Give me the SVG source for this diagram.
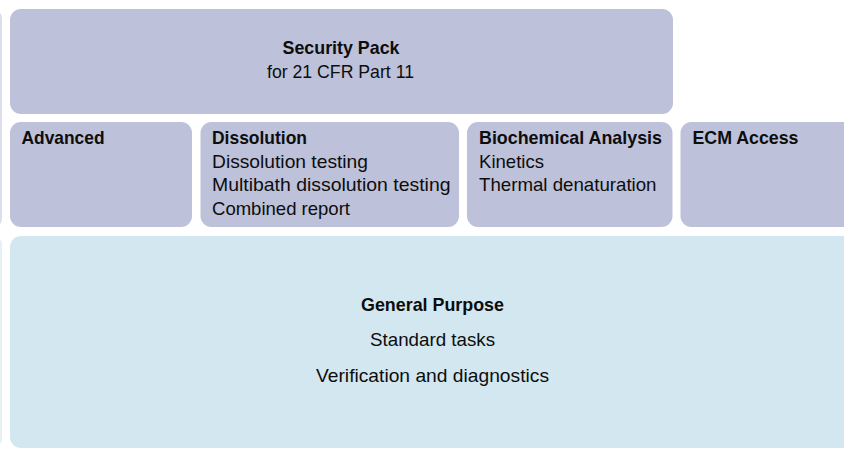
<svg xmlns="http://www.w3.org/2000/svg" width="844" height="449" viewBox="0 0 844 449">
<style>
.p{fill:#bdc1d9}
.b{fill:#d3e7f0}
text{font-family:"Liberation Sans Narrow","Liberation Sans",Arial,sans-serif;font-size:18.5px;fill:#0d0d0d}
.h{font-weight:bold}
.c{text-anchor:middle}
</style>
<rect width="844" height="449" fill="#fff"/>
<g id="edge-left">
<rect x="-20" y="10" width="22" height="217" rx="8" fill="#dcdeeb"/>
<rect x="-20" y="236" width="22" height="211" rx="8" fill="#e5f0f5"/>
</g>
<g id="security">
<rect class="p" x="10" y="9" width="663" height="105" rx="11"/>
<text class="h c" x="341" y="54" textLength="117" lengthAdjust="spacingAndGlyphs">Security Pack</text>
<text class="c" x="340.5" y="77.5" textLength="147" lengthAdjust="spacingAndGlyphs">for 21 CFR Part 11</text>
</g>
<g id="advanced">
<rect class="p" x="10" y="122" width="182" height="105" rx="11"/>
<text class="h" x="21.5" y="144" textLength="83" lengthAdjust="spacingAndGlyphs">Advanced</text>
</g>
<g id="dissolution">
<rect class="p" x="200.5" y="122" width="258.5" height="105" rx="11"/>
<text class="h" x="212" y="144" textLength="95" lengthAdjust="spacingAndGlyphs">Dissolution</text>
<text x="212" y="167.5" textLength="156" lengthAdjust="spacingAndGlyphs">Dissolution testing</text>
<text x="212" y="191" textLength="238.5" lengthAdjust="spacingAndGlyphs">Multibath dissolution testing</text>
<text x="212" y="214.5" textLength="138" lengthAdjust="spacingAndGlyphs">Combined report</text>
</g>
<g id="biochemical">
<rect class="p" x="467" y="122" width="205.5" height="105" rx="11"/>
<text class="h" x="479" y="144" textLength="183" lengthAdjust="spacingAndGlyphs">Biochemical Analysis</text>
<text x="479" y="167.5" textLength="65" lengthAdjust="spacingAndGlyphs">Kinetics</text>
<text x="479" y="191" textLength="177.5" lengthAdjust="spacingAndGlyphs">Thermal denaturation</text>
</g>
<g id="ecm">
<rect class="p" x="680.5" y="122" width="190" height="105" rx="11"/>
<text class="h" x="692.5" y="144" textLength="106" lengthAdjust="spacingAndGlyphs">ECM Access</text>
</g>
<g id="general">
<rect class="b" x="10" y="236" width="860" height="212" rx="11"/>
<text class="h c" x="432.5" y="311" textLength="143" lengthAdjust="spacingAndGlyphs">General Purpose</text>
<text class="c" x="432.5" y="346" textLength="125" lengthAdjust="spacingAndGlyphs">Standard tasks</text>
<text class="c" x="432.5" y="382" textLength="233" lengthAdjust="spacingAndGlyphs">Verification and diagnostics</text>
</g>
<g id="connectors"></g>
</svg>
